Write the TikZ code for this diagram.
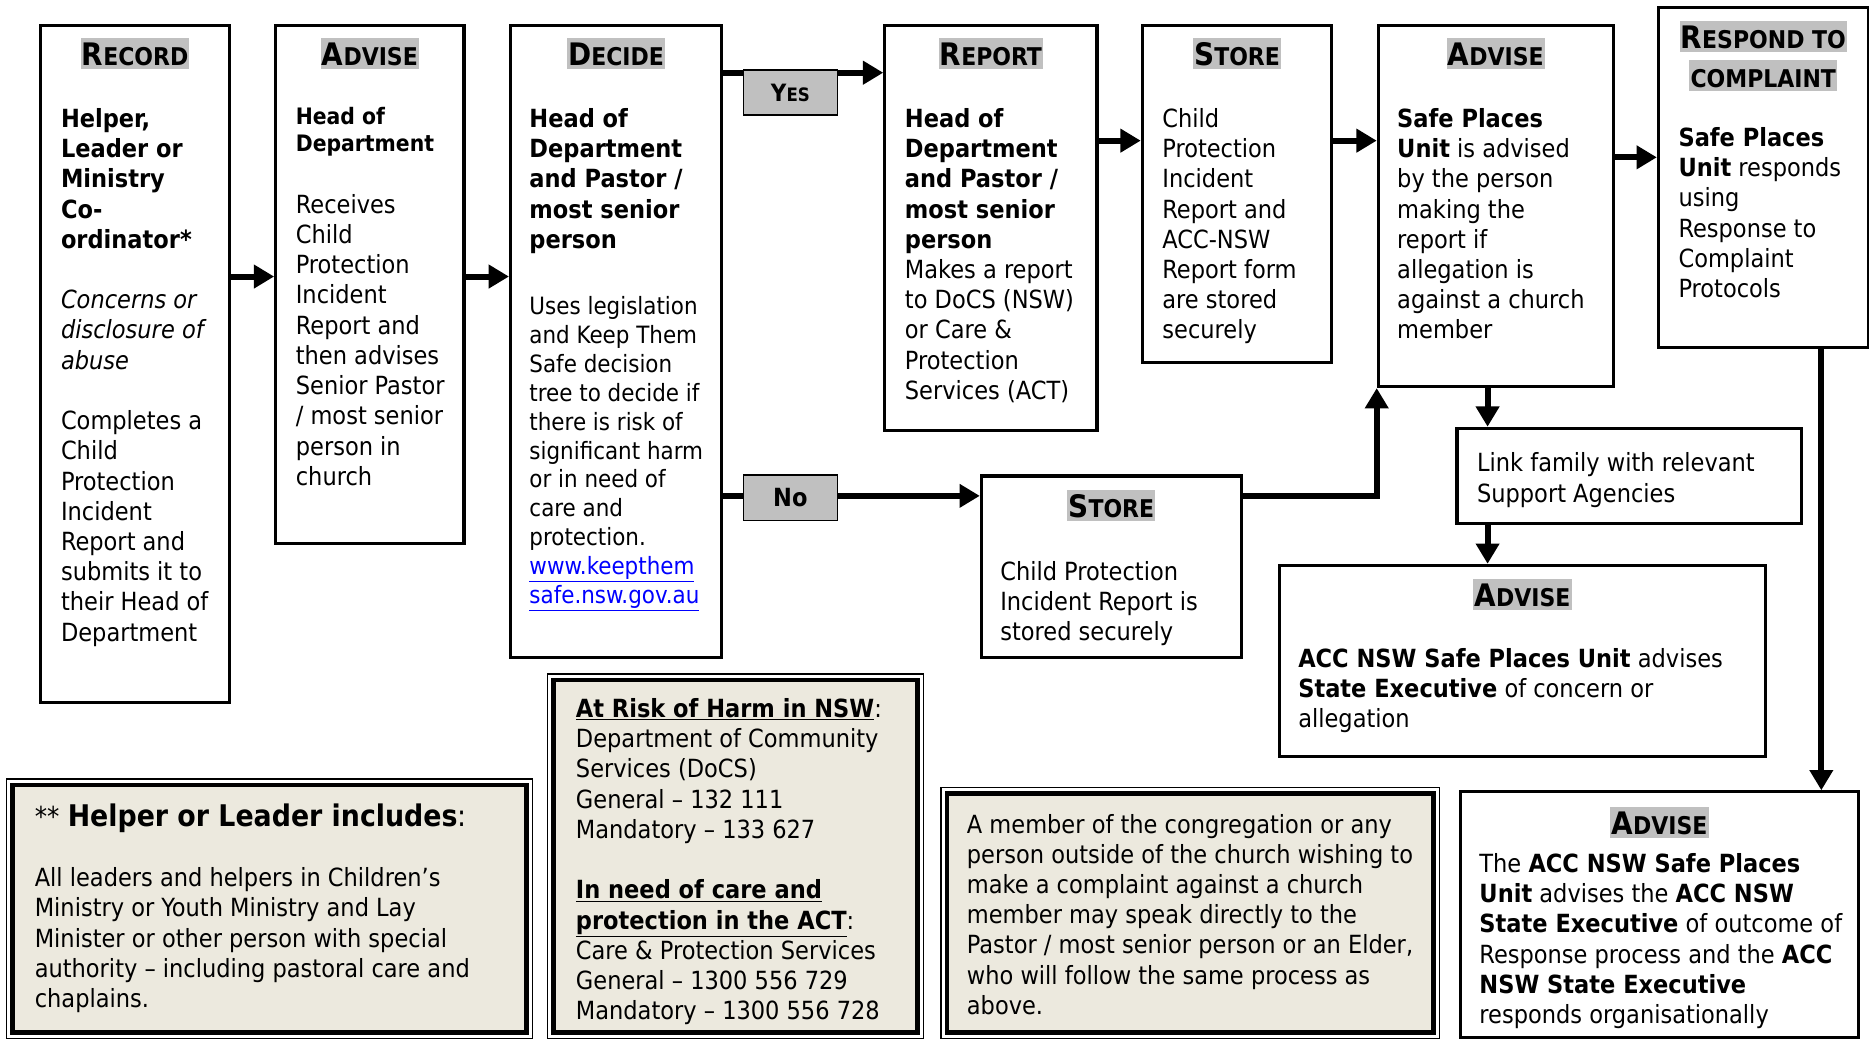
\documentclass[tikz,border=0pt]{standalone}
\usepackage{fontspec}
\setmainfont{DejaVuSansCondensed.ttf}[
  BoldFont=DejaVuSansCondensed-Bold.ttf,
  ItalicFont=DejaVuSansCondensed-Oblique.ttf,
  BoldItalicFont=DejaVuSansCondensed-BoldOblique.ttf]
\usetikzlibrary{arrows.meta,positioning}

\definecolor{titlegray}{RGB}{192,192,192}
\definecolor{notefill}{RGB}{236,233,222}
\newcommand\bodyfont{\fontsize{21}{25.35}\selectfont}
\newcommand\headfont{\fontsize{19}{23}\selectfont\bfseries}
\newcommand\decidefont{\fontsize{20}{24.2}\selectfont}
\newcommand\stagecaps[2]{{\fontsize{26}{26}\selectfont #1}{\fontsize{20.5}{20.5}\selectfont #2}}

\begin{document}
\begin{tikzpicture}[x=1pt, y=-1pt,
    stage/.style={draw, line width=2.6pt, anchor=north west, inner sep=0pt},
    title/.style={fill=titlegray, font=\bfseries, inner xsep=1pt, inner ysep=3pt,
      text height=20pt, text depth=0pt},
    body/.style={anchor=north west, align=left, inner sep=0pt, font=\bodyfont},
    tag/.style={draw, line width=1.2pt, fill=titlegray, anchor=north west,
      inner sep=0pt, font=\bfseries},
    frame/.style={draw, line width=1pt, anchor=north west, inner sep=0pt},
    note/.style={draw, line width=4pt, fill=notefill, inner sep=0pt},
    flow/.style={line width=5pt, -{Triangle[length=17pt,width=19pt]}}]
  \useasboundingbox (0,0) rectangle (1568,872);

  % stage boxes
  \node[stage, minimum width=158pt, minimum height=568pt] (record) at (33,20) {};
  \node[stage, minimum width=158pt, minimum height=435pt] (advisea) at (230,20) {};
  \node[stage, minimum width=177pt, minimum height=530pt] (decide) at (427,20) {};
  \node[stage, minimum width=178pt, minimum height=340pt] (report) at (741,20) {};
  \node[stage, minimum width=159pt, minimum height=283pt] (storea) at (957,20) {};
  \node[stage, minimum width=197pt, minimum height=303pt] (adviseb) at (1155,20) {};
  \node[stage, minimum width=176pt, minimum height=285pt] (respond) at (1390,5) {};
  \node[stage, minimum width=218pt, minimum height=152pt] (storeb) at (822,398) {};
  \node[stage, minimum width=289pt, minimum height=80pt] (link) at (1221,358) {};
  \node[stage, minimum width=408pt, minimum height=160pt] (advisec) at (1072,473) {};
  \node[stage, minimum width=334pt, minimum height=206pt] (advised) at (1224,663) {};

  % titles
  \node[title] (recordtitle) at ([yshift=-25pt]record.north) {\stagecaps{R}{ECORD}};
  \node[title] (adviseatitle) at ([yshift=-25pt]advisea.north) {\stagecaps{A}{DVISE}};
  \node[title] (decidetitle) at ([yshift=-25pt]decide.north) {\stagecaps{D}{ECIDE}};
  \node[title] (reporttitle) at ([yshift=-25pt]report.north) {\stagecaps{R}{EPORT}};
  \node[title] (storeatitle) at ([yshift=-25pt]storea.north) {\stagecaps{S}{TORE}};
  \node[title] (advisebtitle) at ([yshift=-25pt]adviseb.north) {\stagecaps{A}{DVISE}};
  \node[title] (respondtitle) at ([yshift=-26pt]respond.north) {\stagecaps{R}{ESPOND TO}};
  \node[title] (complainttitle) at ([yshift=-58pt]respond.north) {\fontsize{20.5}{20.5}\selectfont COMPLAINT};
  \node[title] (storebtitle) at ([yshift=-26pt]storeb.north) {\stagecaps{S}{TORE}};
  \node[title] (advisectitle) at ([yshift=-26pt]advisec.north) {\stagecaps{A}{DVISE}};
  \node[title] (advisedtitle) at ([yshift=-27pt]advised.north) {\stagecaps{A}{DVISE}};

  % texts
  \node[body] (recordtext) at ([xshift=18pt,yshift=-69pt]record.north west)
    {\strut\textbf{Helper,}\\ \textbf{Leader or}\\ \textbf{Ministry}\\ \textbf{Co-}\\ \textbf{ordinator*}\\[25.35pt]
     \textit{Concerns or}\\ \textit{disclosure of}\\ \textit{abuse}\\[25.35pt]
     Completes a\\ Child\\ Protection\\ Incident\\ Report and\\ submits it to\\ their Head of\\ Department};
  \node[body, font=\headfont] (adviseahead) at ([xshift=18pt,yshift=-68pt]advisea.north west)
    {\strut Head of\\ Department};
  \node[body] (adviseatext) at ([xshift=18pt,yshift=-141pt]advisea.north west)
    {\strut Receives\\ Child\\ Protection\\ Incident\\ Report and\\ then advises\\ Senior Pastor\\ / most senior\\ person in\\ church};
  \node[body, font=\bodyfont\bfseries] (decidehead) at ([xshift=17pt,yshift=-69pt]decide.north west)
    {\strut Head of\\ Department\\ and Pastor /\\ most senior\\ person};
  \node[body, font=\decidefont] (decidetext) at ([xshift=17pt,yshift=-227pt]decide.north west)
    {\strut Uses legislation\\ and Keep Them\\ Safe decision\\ tree to decide if\\ there is risk of\\ significant harm\\ or in need of\\ care and\\ protection.\\
     \textcolor{blue}{\underline{www.keepthem}}\\ \textcolor{blue}{\underline{safe.nsw.gov.au}}};
  \node[body] (reporttext) at ([xshift=18pt,yshift=-69pt]report.north west)
    {\strut\textbf{Head of}\\ \textbf{Department}\\ \textbf{and Pastor /}\\ \textbf{most senior}\\ \textbf{person}\\
     Makes a report\\ to DoCS (NSW)\\ or Care \&\\ Protection\\ Services (ACT)};
  \node[body] (storeatext) at ([xshift=18pt,yshift=-69pt]storea.north west)
    {\strut Child\\ Protection\\ Incident\\ Report and\\ ACC-NSW\\ Report form\\ are stored\\ securely};
  \node[body] (advisebtext) at ([xshift=17pt,yshift=-69pt]adviseb.north west)
    {\strut\textbf{Safe Places}\\ \textbf{Unit} is advised\\ by the person\\ making the\\ report if\\ allegation is\\ against a church\\ member};
  \node[body] (respondtext) at ([xshift=18pt,yshift=-100pt]respond.north west)
    {\strut\textbf{Safe Places}\\ \textbf{Unit} responds\\ using\\ Response to\\ Complaint\\ Protocols};
  \node[body] (storebtext) at ([xshift=17pt,yshift=-71pt]storeb.north west)
    {\strut Child Protection\\ Incident Report is\\ stored securely};
  \node[body] (linktext) at ([xshift=18pt,yshift=-20pt]link.north west)
    {\strut Link family with relevant\\ Support Agencies};
  \node[body] (advisectext) at ([xshift=17pt,yshift=-69pt]advisec.north west)
    {\strut\textbf{ACC NSW Safe Places Unit} advises\\ \textbf{State Executive} of concern or\\ allegation};
  \node[body] (advisedtext) at ([xshift=17pt,yshift=-51pt]advised.north west)
    {\strut The \textbf{ACC NSW Safe Places}\\ \textbf{Unit} advises the \textbf{ACC NSW}\\ \textbf{State Executive} of outcome of\\ Response process and the \textbf{ACC}\\ \textbf{NSW State Executive}\\ responds organisationally};

  % notes
  \node[frame, minimum width=441pt, minimum height=218pt] (helperframe) at (5,653) {};
  \node[note, minimum width=431pt, minimum height=208pt] (helper) at (helperframe.center) {};
  \node[frame, minimum width=315pt, minimum height=306pt] (atriskframe) at (459,565) {};
  \node[note, minimum width=305pt, minimum height=296pt] (atrisk) at (atriskframe.center) {};
  \node[frame, minimum width=418pt, minimum height=211pt] (memberframe) at (789,660) {};
  \node[note, minimum width=408pt, minimum height=201pt] (member) at (memberframe.center) {};

  \node[anchor=base west, inner sep=0pt] (helperhead) at ([xshift=24pt,yshift=-40pt]helperframe.north west)
    {{\fontsize{23}{23}\selectfont **}\hspace{7pt}{\fontsize{25}{30}\selectfont\textbf{Helper or Leader includes}:}};
  \node[body] (helpertext) at ([xshift=24pt,yshift=-73pt]helperframe.north west)
    {\strut All leaders and helpers in Children’s\\ Ministry or Youth Ministry and Lay\\ Minister or other person with special\\ authority – including pastoral care and\\ chaplains.};
  \node[body] (atrisktext) at ([xshift=24pt,yshift=-19pt]atriskframe.north west)
    {\strut\underline{\textbf{At Risk of Harm in NSW}}:\\ Department of Community\\ Services (DoCS)\\ General – 132 111\\ Mandatory – 133 627\\[25.35pt]
     \underline{\textbf{In need of care and}}\\ \underline{\textbf{protection in the ACT}}:\\ Care \& Protection Services\\ General – 1300 556 729\\ Mandatory – 1300 556 728};
  \node[body] (membertext) at ([xshift=22pt,yshift=-21pt]memberframe.north west)
    {\strut A member of the congregation or any\\ person outside of the church wishing to\\ make a complaint against a church\\ member may speak directly to the\\ Pastor / most senior person or an Elder,\\ who will follow the same process as\\ above.};

  % connectors
  \coordinate (midrow) at (0,232);
  \coordinate (yesrow) at (0,61);
  \coordinate (norow) at (0,416);
  \coordinate (storerow) at (0,118);
  \coordinate (respondrow) at (0,132);
  \coordinate (linkcol) at (1248,0);
  \coordinate (complaintcol) at (1528,0);
  \draw[flow] (record.east |- midrow) -- (advisea.west |- midrow);
  \draw[flow] (advisea.east |- midrow) -- (decide.west |- midrow);
  \draw[flow] (decide.east |- yesrow) -- (report.west |- yesrow);
  \draw[flow] (decide.east |- norow) -- (storeb.west |- norow);
  \draw[flow] (report.east |- storerow) -- (storea.west |- storerow);
  \draw[flow] (storea.east |- storerow) -- (adviseb.west |- storerow);
  \draw[flow] (adviseb.east |- respondrow) -- (respond.west |- respondrow);
  \draw[flow] (storeb.east |- norow) -| (adviseb.south west);
  \draw[flow] (adviseb.south -| linkcol) -- (link.north -| linkcol);
  \draw[flow] (link.south -| linkcol) -- (advisec.north -| linkcol);
  \draw[flow] (respond.south -| complaintcol) -- (advised.north -| complaintcol);

  % yes / no tags
  \node[tag, minimum width=79pt, minimum height=38pt] (yes) at (623,58)
    {{\fontsize{20}{20}\selectfont Y}{\fontsize{15.5}{15.5}\selectfont ES}};
  \node[tag, minimum width=79pt, minimum height=38pt] (no) at (623,398)
    {\fontsize{21}{21}\selectfont No};
\end{tikzpicture}
\end{document}
